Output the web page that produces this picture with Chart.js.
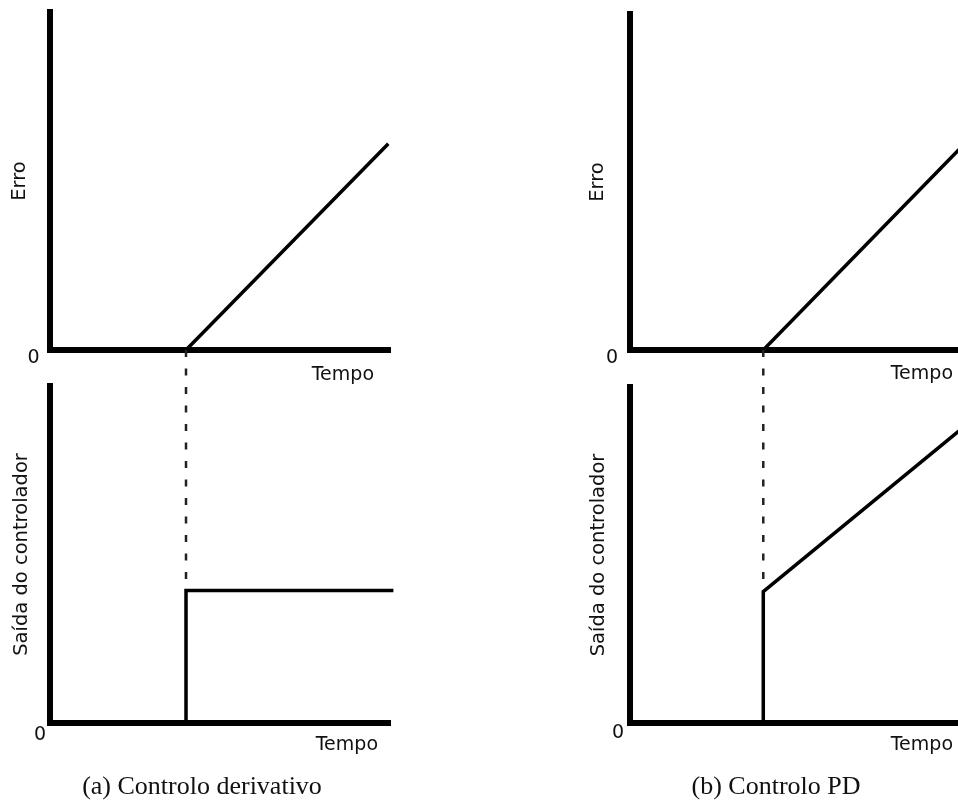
<!DOCTYPE html>
<html>
<head>
<meta charset="utf-8">
<script src="https://cdn.jsdelivr.net/npm/chart.js@4.4.1/dist/chart.umd.min.js"></script>
<style>
  html, body { margin: 0; padding: 0; background: #fff; }
  body { width: 958px; height: 801px; position: relative; overflow: hidden; }
  canvas { position: absolute; }
  .caption {
    position: absolute; width: 400px; text-align: center;
    font-family: "Liberation Serif", serif; font-size: 26px; line-height: 30px; color: #111;
  }
</style>
</head>
<body>
<canvas id="errA" width="400" height="400" style="left:0;top:0"></canvas>
<canvas id="outA" width="400" height="433" style="left:0;top:340px"></canvas>
<canvas id="errB" width="402" height="400" style="left:578px;top:0"></canvas>
<canvas id="outB" width="402" height="433" style="left:578px;top:340px"></canvas>
<div class="caption" style="left:2px;top:771px">(a) Controlo derivativo</div>
<div class="caption" style="left:576px;top:771px">(b) Controlo PD</div>
<script>
// (a) controlo derivativo
const errA_t = [0, 4, 9.95];
const errA_v = [0, 0, 6.1];
const outA_t = [0, 4, 4, 10.1];
const outA_v = [0, 0, 3.93, 3.93];
const guideA_t = [4, 4];
const guideA_v = [11.07, 3.93];

// (b) controlo PD
const errB_t = [0, 3.92, 9.95];
const errB_v = [0, 0, 6.25];
const outB_t = [0, 3.92, 3.92, 10];
const outB_v = [0, 0, 3.91, 8.96];
const guideB_t = [3.92, 3.92];
const guideB_v = [11.1, 3.91];

const yLabelErro = 'Erro';
const yLabelSaida = 'Saída do controlador';
const xLabel = 'Tempo';
const originLabel = '0';

const pts = (t, v) => t.map((x, i) => ({ x: x, y: v[i] }));

// "0" e "Tempo" junto aos eixos
const axisText = {
  id: 'axisText',
  afterDraw(chart, args, o) {
    const { ctx, chartArea } = chart;
    ctx.save();
    ctx.fillStyle = '#111';
    ctx.font = '19px "DejaVu Sans"';
    ctx.textBaseline = 'middle';
    ctx.textAlign = 'center';
    ctx.fillText(originLabel, chartArea.left + o.zero[0], chartArea.bottom + o.zero[1]);
    ctx.textAlign = 'right';
    ctx.fillText(xLabel, chartArea.right + o.tempo[0], chartArea.bottom + o.tempo[1]);
    ctx.restore();
  }
};

function panel(id, datasets, yTitle, titlePad, yWidth, padTop, text) {
  return new Chart(document.getElementById(id), {
    type: 'line',
    data: { datasets: datasets },
    options: {
      responsive: false,
      animation: false,
      devicePixelRatio: 1,
      layout: { padding: { top: padTop, right: 10, left: 0, bottom: 0 } },
      plugins: { legend: { display: false }, tooltip: { enabled: false }, axisText: text },
      elements: { point: { radius: 0 }, line: { tension: 0 } },
      scales: {
        x: {
          type: 'linear', min: 0, max: 10,
          ticks: { display: false },
          grid: { display: false },
          border: { color: '#000', width: 6 },
          afterFit: s => { s.height = 50; }
        },
        y: {
          type: 'linear', min: 0, max: 10,
          ticks: { display: false },
          grid: { display: false },
          border: { color: '#000', width: 6 },
          title: {
            display: true, text: yTitle, color: '#111',
            font: { family: 'DejaVu Sans', size: 19.5 },
            padding: { top: titlePad, bottom: 0 }
          },
          afterFit: s => { s.width = yWidth; }
        }
      }
    },
    plugins: [axisText]
  });
}

const solid = (data) => ({
  data: data, borderColor: '#000', borderWidth: 3.5,
  borderJoinStyle: 'miter', clip: false
});
const dashed = (data) => ({
  data: data, borderColor: '#222', borderWidth: 2.5,
  borderDash: [7, 11.5], clip: false
});

panel('errA', [solid(pts(errA_t, errA_v))], yLabelErro, 8, 50, 12,
  { zero: [-16.5, 8], tempo: [-16, 25] });
panel('outA', [solid(pts(outA_t, outA_v)), dashed(pts(guideA_t, guideA_v))], yLabelSaida, 10, 50, 46,
  { zero: [-10, 12], tempo: [-12, 22] });
panel('errB', [solid(pts(errB_t, errB_v))], yLabelErro, 8, 52, 14,
  { zero: [-18, 8], tempo: [-17, 24] });
panel('outB', [solid(pts(outB_t, outB_v)), dashed(pts(guideB_t, guideB_v))], yLabelSaida, 9, 52, 47,
  { zero: [-12, 10.5], tempo: [-17, 22] });
</script>
</body>
</html>
